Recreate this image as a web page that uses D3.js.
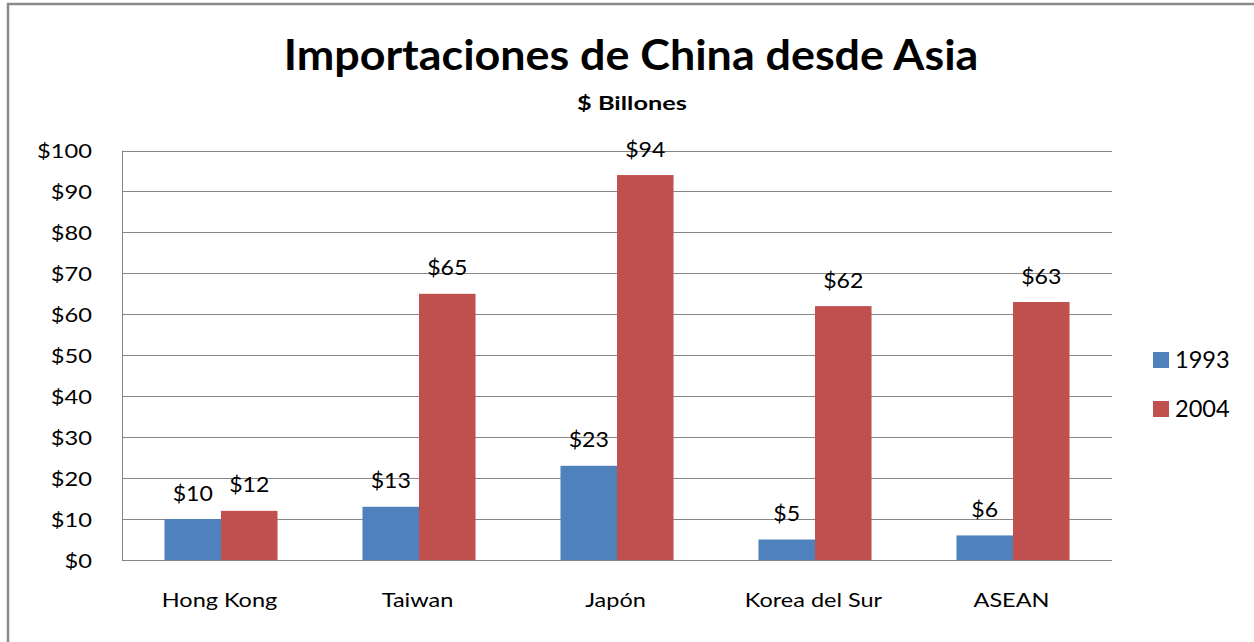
<!DOCTYPE html>
<html>
<head>
<meta charset="utf-8">
<script src="https://cdn.jsdelivr.net/npm/d3@7/dist/d3.min.js"></script>
<style>
  html, body { margin: 0; padding: 0; background: #fff; }
  svg { display: block; }
  text { font-family: Lato, "Open Sans", sans-serif; fill: #000; }
</style>
</head>
<body>
<svg id="chart" width="1254" height="642"></svg>
<script>
// Chinese imports from Asia, billions of US dollars
const categories = ["Hong Kong", "Taiwan", "Japón", "Korea del Sur", "ASEAN"];
const seriesNames = ["1993", "2004"];
const values1993 = [10, 13, 23, 5, 6];
const values2004 = [12, 65, 94, 62, 63];
const yTicks = [0, 10, 20, 30, 40, 50, 60, 70, 80, 90, 100];
const seriesColors = ["#4F81BD", "#C0504D"];

const titleText = "Importaciones de China desde Asia";
const subtitleText = "$ Billones";

const svg = d3.select("#chart");
const W = 1254, H = 642;
const plot = { left: 122, right: 1112, top: 150.5, bottom: 560 };

// outer frame (top and left edges)
svg.append("path")
  .attr("d", `M8,${H} L8,4 L${W},4`)
  .attr("fill", "none")
  .attr("stroke", "#8a8a8a")
  .attr("stroke-width", 2.5);

// text helper with horizontal stretch
function stretchedText(parent, x, y, str, opts) {
  return parent.append("text")
    .attr("transform", `translate(${x},${y}) scale(${opts.sx || 1},1)`)
    .attr("text-anchor", opts.anchor || "middle")
    .style("font-size", opts.size + "px")
    .style("font-weight", opts.weight || "normal")
    .text(str);
}

const fmt = d => "$" + d3.format("d")(d);

// scales
const x0 = d3.scaleBand()
  .domain(categories)
  .range([plot.left, plot.right])
  .paddingInner(0.429)
  .paddingOuter(0.2145);

const x1 = d3.scaleBand()
  .domain(seriesNames)
  .range([0, x0.bandwidth()])
  .padding(0);

const y = d3.scaleLinear()
  .domain([0, 100])
  .range([plot.bottom, plot.top]);

// gridlines
svg.append("g")
  .attr("class", "grid")
  .selectAll("line")
  .data(yTicks)
  .join("line")
  .attr("x1", plot.left)
  .attr("x2", plot.right)
  .attr("y1", d => Math.round(y(d)) + 0.5)
  .attr("y2", d => Math.round(y(d)) + 0.5)
  .attr("stroke", "#868686")
  .attr("stroke-width", 1);

// y axis
const yAxis = svg.append("g")
  .attr("transform", `translate(${plot.left + 0.5},0)`)
  .call(d3.axisLeft(y).tickValues(yTicks).tickSize(0).tickFormat(fmt));
yAxis.select(".domain").attr("stroke", "#868686").attr("d", `M0,${plot.top}V${plot.bottom}`);
yAxis.selectAll(".tick text")
  .attr("x", null).attr("dy", null)
  .attr("transform", "translate(-30.5,7) scale(1.28,1)")
  .style("font-size", "18.5px")
  .style("font-family", "Lato, sans-serif")
  .attr("fill", "#000");

// bars
const rows = categories.map((c, i) => ({ cat: c, vals: [values1993[i], values2004[i]] }));

const groups = svg.append("g").selectAll("g")
  .data(rows)
  .join("g")
  .attr("transform", d => `translate(${x0(d.cat)},0)`);

groups.selectAll("rect")
  .data(d => d.vals.map((v, k) => ({ key: seriesNames[k], v, k })))
  .join("rect")
  .attr("x", d => x1(d.key))
  .attr("width", x1.bandwidth())
  .attr("y", d => y(d.v))
  .attr("height", d => y(0) - y(d.v))
  .attr("fill", d => seriesColors[d.k]);

// value labels
groups.each(function(d) {
  const g = d3.select(this);
  d.vals.forEach((v, k) => {
    stretchedText(g, x1(seriesNames[k]) + x1.bandwidth() / 2, y(v) - 18.5, fmt(v),
      { size: 21, sx: 1.1 });
  });
});

// x axis
const xAxis = svg.append("g")
  .attr("transform", `translate(0,${Math.round(plot.bottom) + 0.5})`)
  .call(d3.axisBottom(x0).tickSize(0));
xAxis.select(".domain").attr("stroke", "#868686").attr("d", `M${plot.left},0H${plot.right}`);
xAxis.selectAll(".tick text")
  .attr("y", null).attr("dy", null)
  .attr("transform", "translate(-1.5,46.5) scale(1.27,1)")
  .style("font-size", "18.5px")
  .style("font-family", "Lato, sans-serif")
  .attr("fill", "#000");

// titles
stretchedText(svg, 631, 70, titleText, { size: 41.5, weight: "bold", sx: 1.08 });
stretchedText(svg, 632, 110, subtitleText, { size: 19.5, weight: "bold", sx: 1.3 });

// legend
const legend = svg.append("g").attr("transform", "translate(1153,352)");
seriesNames.forEach((name, i) => {
  const row = legend.append("g").attr("transform", `translate(0,${i * 49})`);
  row.append("rect").attr("width", 16).attr("height", 16).attr("fill", seriesColors[i]);
  stretchedText(row, 22, 16, name, { size: 22.7, anchor: "start", sx: 1.04 });
});
</script>
</body>
</html>
